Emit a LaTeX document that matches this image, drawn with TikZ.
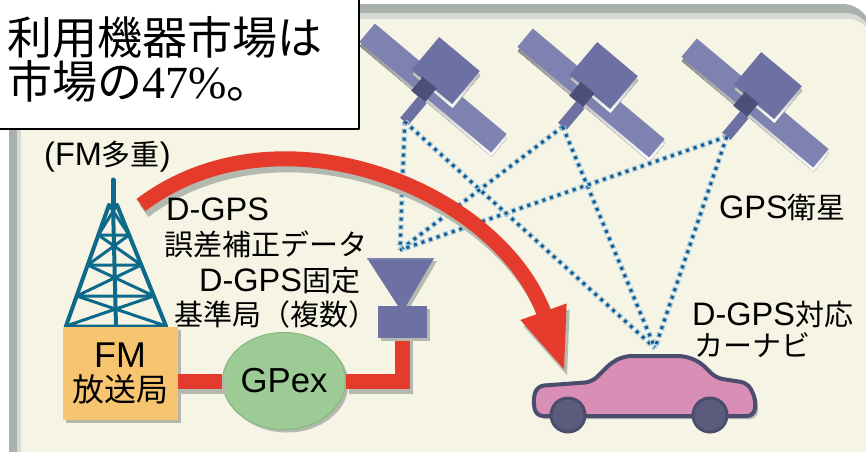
\documentclass[tikz,border=0pt]{standalone}
\usepackage{fontspec}
\setmainfont{Noto Sans CJK JP}
\newfontfamily\lat[Scale=1.12]{Liberation Sans}
\newfontfamily\latserif{Liberation Serif}
\usetikzlibrary{arrows.meta,shapes.geometric,shadows}
\definecolor{cream}{HTML}{F6F4E4}
\definecolor{rim}{HTML}{A9B1AD}
\definecolor{rimlight}{HTML}{D6DAD3}
\definecolor{shade}{HTML}{B4B9B0}
\definecolor{satblue}{HTML}{6C70A3}
\definecolor{satlight}{HTML}{7E82B1}
\definecolor{satdark}{HTML}{4C4F78}
\definecolor{raydark}{HTML}{135A8C}
\definecolor{raylight}{HTML}{A8CBE0}
\definecolor{fmred}{HTML}{E53B2C}
\definecolor{towerteal}{HTML}{0E6A8B}
\definecolor{fmorange}{HTML}{F7C46F}
\definecolor{gpexgreen}{HTML}{9DCB96}
\definecolor{gpexedge}{HTML}{86B680}
\definecolor{carpink}{HTML}{D98EB6}
\definecolor{carline}{HTML}{4A4D6E}
\definecolor{wheel}{HTML}{5B5B7E}
\begin{document}
\begin{tikzpicture}[x=1pt, y=-1pt, line join=round, line cap=round,
	lbl/.style={anchor=base west, inner sep=0pt, font=\fontsize{29}{34}\selectfont},
	ray/.style={draw=raydark, line width=3pt, line cap=butt, dash pattern=on 3pt off 5pt,
		preaction={draw=raylight, line width=5.5pt, line cap=butt, dash pattern=on 5pt off 3pt, dash phase=1pt}},
	redband/.style={line width=15pt, line cap=butt, line join=miter},
	tower/.style={draw=towerteal, line width=4pt},
	shadowed/.style={drop shadow={shadow xshift=3pt, shadow yshift=-3pt, fill=shade, opacity=1}}]
	\useasboundingbox (0,0) rectangle (866,451);
	\fill[rim, rounded corners=30pt] (9,4) rectangle (872,480);
	\fill[rimlight, rounded corners=26pt] (17,13) rectangle (872,480);
	\fill[cream, rounded corners=24pt] (21,19) rectangle (872,480);

	\foreach \n/\sx/\sy in {1/433/88, 2/591/93, 3/755/103}{
		\begin{scope}[shift={(\sx,\sy)}, rotate=-40]
			\fill[shade] (-83,-9) rectangle (89,15);
			\fill[satlight] (-86,-12) rectangle (86,12);
			\fill[shade] (-25,-40) rectangle (28,3);
			\fill[satblue] (-28,-43) rectangle (25,0);
			\fill[satdark] (-15,-2) rectangle (3,16);
			\fill[satblue] (-6,16) rectangle (5,44);
			\coordinate (sat\n) at (0,44);
		\end{scope}
	}
	\coordinate (stnTop) at (400,250);
	\coordinate (roof) at (655,348);
	\foreach \n in {1,2,3}{
		\draw[ray] (sat\n) -- (stnTop);
		\draw[ray] (sat\n) -- (roof);
	}

	\coordinate (tx) at (141,205);
	\coordinate (hood) at (565,372);
	\begin{scope}[transform canvas={xshift=3pt, yshift=-6pt}]
		\draw[redband, draw=shade, -{Triangle[length=64pt, width=44pt]}] (tx) .. controls (280,100) and (500,190) .. (hood);
	\end{scope}
	\draw[redband, draw=fmred, -{Triangle[length=64pt, width=44pt]}] (tx) .. controls (280,100) and (500,190) .. (hood);

	\draw[tower, line width=5pt] (113,180) -- (113,208);
	\draw[tower] (109,205) -- (66,326) (117,205) -- (166,326) (113,205) -- (116,326);
	\foreach \ya/\yb in {205/235, 235/265, 265/296, 296/326}
		\draw[tower, line width=3pt] ({109-(\ya-205)*0.355},\ya) -- ({117+(\yb-205)*0.405},\yb)
			({117+(\ya-205)*0.405},\ya) -- ({109-(\yb-205)*0.355},\yb)
			({109-(\yb-205)*0.355},\yb) -- ({117+(\yb-205)*0.405},\yb);

	\coordinate (stnFoot) at (402,336);
	\fill[satblue, shadowed] (367,258) -- (434,258) -- (406,306) -- (398,306) -- cycle;
	\draw[satlight, line width=2pt] (368,259) -- (433,259);

	\node[shadowed, fill=fmorange, minimum width=115pt, minimum height=93pt, align=center,
		font=\fontsize{32}{34}\selectfont] (fm) at (120,373) {{\lat FM}\\放送局};
	\node[ellipse, shadowed, fill=gpexgreen, draw=gpexedge, line width=1pt, minimum width=112pt,
		minimum height=97pt, inner sep=0pt, font=\fontsize{31}{34}\selectfont\lat] (gpex) at (284,381) {GPex};
	\begin{scope}[transform canvas={xshift=3pt, yshift=-5pt}]
		\draw[redband, draw=shade] (fm.east |- gpex.west) -- (gpex.west) (gpex.east) -| (stnFoot);
	\end{scope}
	\draw[redband, draw=fmred] (fm.east |- gpex.west) -- (gpex.west) (gpex.east) -| (stnFoot);
	\fill[satblue, shadowed] (378,306) rectangle (427,338);

	\draw[carline, fill=carpink, line width=4pt, rounded corners=7pt, shadowed]
		(533,400) -- (537,386) -- (592,382) -- (612,362) -- (625,356) -- (685,356) -- (700,362)
		-- (716,378) -- (748,383) -- (756,400) -- (754,416) -- (536,416) -- cycle;
	\draw[carline, fill=wheel, line width=3pt] (568,415) circle (17pt) (710,415) circle (17pt);

	\node[lbl] (fmmulti) at (44,165) {{\lat(FM}多重{\lat)}};
	\node[lbl] (dgps) at (166,220) {\lat D-GPS};
	\node[lbl] (hosei) at (164,255) {誤差補正データ};
	\node[lbl] (kotei) at (199,291) {{\lat D-GPS}固定};
	\node[lbl] (kijun) at (174,325) {基準局（複数）};
	\node[lbl] (eisei) at (719,218) {{\lat GPS}衛星};
	\node[lbl] (taiou) at (692,325) {{\lat D-GPS}対応};
	\node[lbl] (navi) at (694,356) {カーナビ};

	\node[draw=black, fill=white, line width=1.8pt, anchor=north west, minimum width=362pt,
		minimum height=132pt] (note) at (-4,-4) {};
	\node[anchor=base west, inner sep=0pt, font=\fontsize{45}{50}\selectfont] (noteA) at (7,54) {利用機器市場は};
	\node[anchor=base west, inner sep=0pt, font=\fontsize{45}{50}\selectfont] (noteB) at (7,98)
		{市場の{\latserif\fontsize{46}{50}\selectfont 47\%}。};
\end{tikzpicture}
\end{document}
